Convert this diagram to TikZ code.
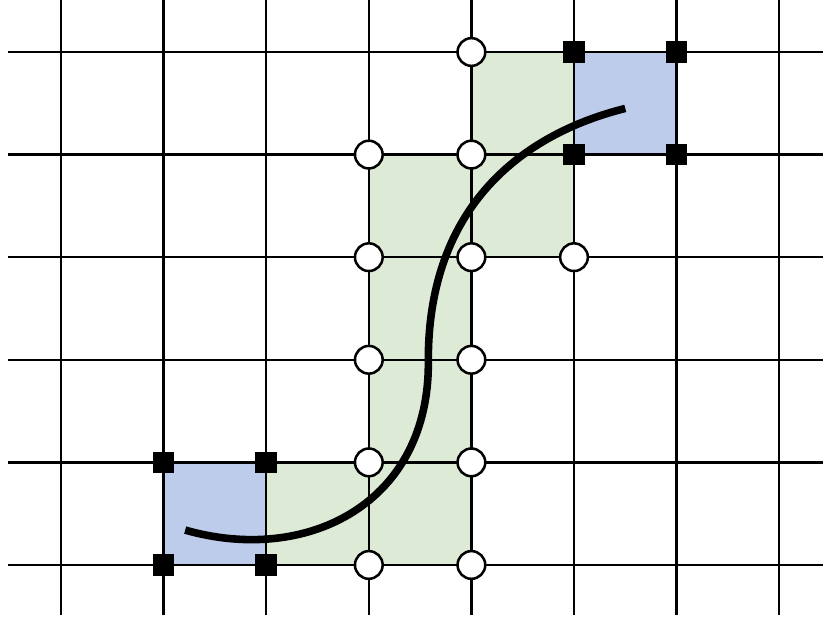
\documentclass[tikz,border=0pt]{standalone}
\usepackage{tikz}
\usetikzlibrary{calc, positioning}
\definecolor{cellblue}{RGB}{189,204,234}
\definecolor{cellgreen}{RGB}{221,235,214}
\tikzset{
	gridline/.style={line width=0.7pt, black}
}
\tikzset{
	freept/.style={circle, draw, fill=white, line width=0.7pt, minimum size=0.27cm, inner sep=0pt},
	fixedpt/.style={rectangle, fill=black, minimum size=0.21cm, inner sep=0pt},
	pathcell/.style={fill=cellgreen},
	endcell/.style={fill=cellblue},
	track/.style={line width=2.1pt}
}

\begin{document}
\begin{tikzpicture}
      \useasboundingbox (-0.595,-0.546) rectangle (7.427,5.507);
      % cells of the route
      \foreach \x/\y in {2/0,3/0,3/1,3/2,3/3,4/3,4/4} {
        \fill[pathcell] (\x,\y) rectangle ++(1,1);
      }
      \foreach \x/\y in {1/0,5/4} {
        \fill[endcell] (\x,\y) rectangle ++(1,1);
      }
      % grid
      \foreach \x in {0,...,7} {
        \draw[gridline] (\x,-0.49) -- (\x,5.507);
      }
      \foreach \y in {0,...,5} {
        \draw[gridline] (-0.52,\y) -- (7.427,\y);
      }
      % route
      \coordinate (start) at (1.21,0.34);
      \coordinate (mid) at (3.58,2.0);
      \coordinate (end) at (5.5,4.45);
      \draw[track] (start) .. controls (2.4,0.0) and (3.6,0.6) .. (mid)
        .. controls (3.58,3.5) and (4.5,4.2) .. (end);
      % grid points
      \foreach \x/\y in {4/5,3/4,4/4,3/3,4/3,5/3,3/2,4/2,3/1,4/1,3/0,4/0} {
        \node[freept] (f\x\y) at (\x,\y) {};
      }
      \foreach \x/\y in {5/5,6/5,5/4,6/4,1/1,2/1,1/0,2/0} {
        \node[fixedpt] (p\x\y) at (\x,\y) {};
      }
    \end{tikzpicture}
\end{document}
